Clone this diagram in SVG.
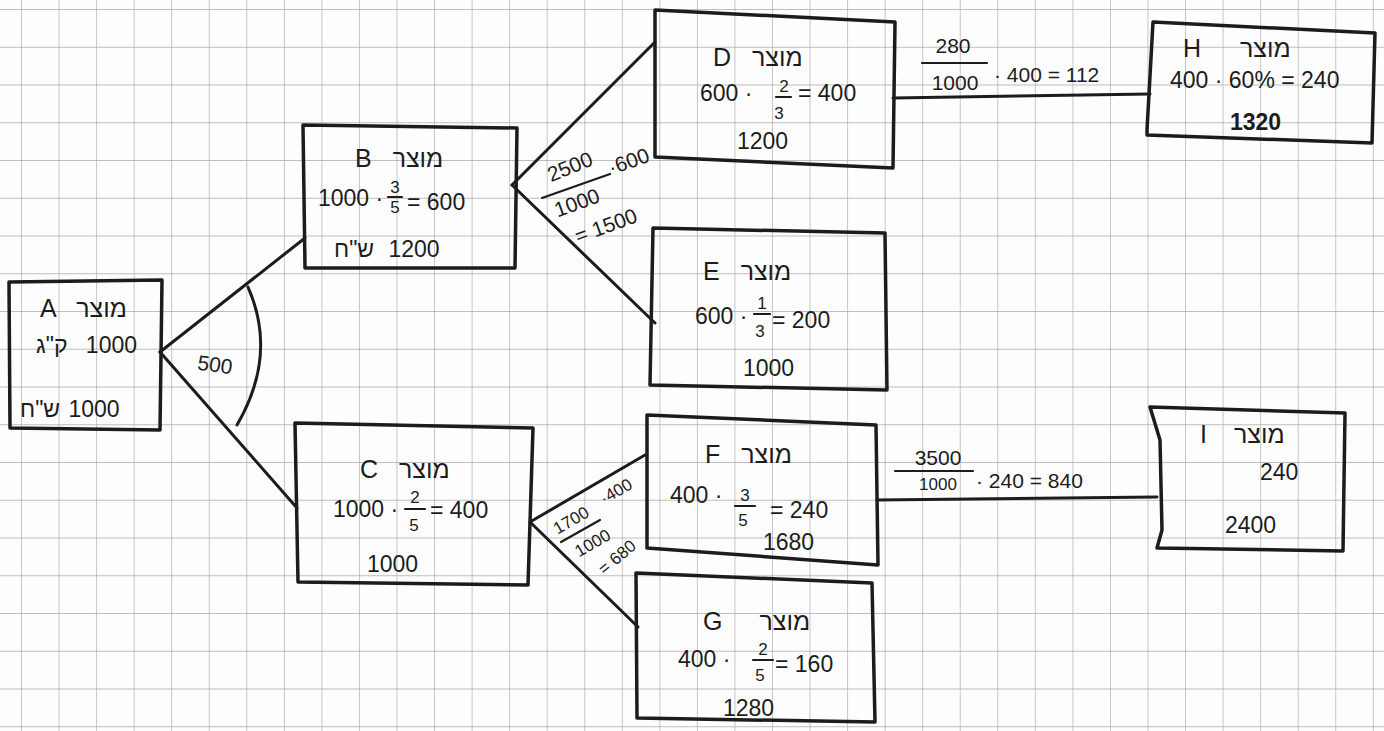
<svg xmlns="http://www.w3.org/2000/svg" width="1384" height="731" viewBox="0 0 1384 731">
<defs>
<pattern id="grid" x="21" y="9" width="37.55" height="37.75" patternUnits="userSpaceOnUse">
<path d="M0,0 V37.75 M0,0 H37.55" stroke="#a9a9a9" stroke-width="1.3" fill="none"/>
</pattern>
<style>
.t{font-family:"Liberation Sans","DejaVu Sans",sans-serif;font-size:23px;fill:#1c1c1c}
.h{font-size:25px;word-spacing:14px}
.s{font-size:17px}
.e{font-size:21px}
.m{text-anchor:middle}
.box{fill:none;stroke:#1c1c1c;stroke-width:3.5;stroke-linejoin:round;stroke-linecap:round}
.ln{fill:none;stroke:#1c1c1c;stroke-width:3;stroke-linecap:round}
.fb{fill:none;stroke:#1c1c1c;stroke-width:2.2;stroke-linecap:round}
</style>
</defs>
<rect width="1384" height="731" fill="#fdfdfd"/>
<rect width="1384" height="731" fill="url(#grid)"/>

<g id="connectors">
<line class="ln" x1="160" y1="352" x2="305" y2="238"/>
<line class="ln" x1="160" y1="352" x2="297" y2="508"/>
<path class="ln" d="M248,287 Q278,355 237,425"/>
<line class="ln" x1="512" y1="185" x2="655" y2="42"/>
<line class="ln" x1="512" y1="185" x2="655" y2="323"/>
<line class="ln" x1="893" y1="98" x2="1150" y2="94"/>
<line class="ln" x1="530" y1="522" x2="645" y2="455"/>
<line class="ln" x1="530" y1="522" x2="638" y2="627"/>
<line class="ln" x1="877" y1="500" x2="1157" y2="497"/>
<!-- edge labels -->
<text class="t e" x="215" y="372" text-anchor="middle" transform="rotate(8 215 365)">500</text>
<g id="label-BDE">
<text class="t e m" x="570" y="174" transform="rotate(-22 570 167)">2500</text>
<line class="fb" x1="542" y1="198" x2="610" y2="174"/>
<text class="t e" x="609" y="175" transform="rotate(-20 611 168)">·600</text>
<text class="t e m" x="577" y="210" transform="rotate(-20 577 203)">1000</text>
<text class="t e m" x="606" y="233" transform="rotate(-20 606 226)">= 1500</text>
</g>
<g id="label-DH">
<text class="t e m" x="953" y="53">280</text>
<line class="fb" x1="922" y1="63" x2="987" y2="63"/>
<text class="t e m" x="955" y="90">1000</text>
<text class="t e" x="994" y="82">· 400 = 112</text>
</g>
<g id="label-CFG">
<text class="t s m" x="571" y="526" transform="rotate(-30 571 520)">1700</text>
<line class="fb" x1="561" y1="542" x2="600" y2="520"/>
<text class="t s m" x="616" y="497" transform="rotate(-30 616 491)">·400</text>
<text class="t s m" x="592" y="549" transform="rotate(-30 592 542)">1000</text>
<text class="t s m" x="617" y="563" transform="rotate(-40 617 557)">= 680</text>
</g>
<g id="label-FI">
<text class="t e m" x="938" y="465">3500</text>
<line class="fb" x1="895" y1="471" x2="973" y2="471"/>
<text class="t s m" x="938" y="490">1000</text>
<text class="t e" x="976" y="488">· 240 = 840</text>
</g>
</g>

<g id="node-A">
<path class="box" d="M9,282 L162,280 L160,430 L10,428 Z"/>
<text class="t h" x="40" y="317">A מוצר</text>
<text class="t" x="36" y="353" style="word-spacing:12px">ק"ג&#x200E; 1000</text>
<text class="t" x="20" y="417" style="word-spacing:2px">ש"ח&#x200E; 1000</text>
</g>

<g id="node-B">
<path class="box" d="M303,125 L517,128 L515,268 L305,268 Z"/>
<text class="t h" x="355" y="167">B מוצר</text>
<text class="t" x="318" y="206">1000 ·</text>
<text class="t s m" x="395" y="193">3</text>
<line class="fb" x1="388" y1="197" x2="402" y2="197"/>
<text class="t s m" x="395" y="213">5</text>
<text class="t" x="407" y="210">= 600</text>
<text class="t" x="334" y="257" style="word-spacing:8px">ש"ח&#x200E; 1200</text>
</g>

<g id="node-C">
<path class="box" d="M295,423 L533,428 L528,585 L298,582 Z"/>
<text class="t h" x="360" y="478">C מוצר</text>
<text class="t" x="333" y="517">1000 ·</text>
<text class="t s m" x="415" y="503">2</text>
<line class="fb" x1="405" y1="509" x2="425" y2="509"/>
<text class="t s m" x="414" y="531">5</text>
<text class="t" x="430" y="518">= 400</text>
<text class="t" x="367" y="572">1000</text>
</g>

<g id="node-D">
<path class="box" d="M655,10 L895,22 L893,168 L655,157 Z"/>
<text class="t h" x="713" y="66">D מוצר</text>
<text class="t" x="700" y="101">600 ·</text>
<text class="t s m" x="784" y="92">2</text>
<line class="fb" x1="776" y1="97" x2="791" y2="97"/>
<text class="t s m" x="779" y="119">3</text>
<text class="t" x="798" y="101">= 400</text>
<text class="t" x="737" y="149">1200</text>
</g>

<g id="node-E">
<path class="box" d="M653,228 L885,233 L887,390 L650,385 Z"/>
<text class="t h" x="703" y="280">E מוצר</text>
<text class="t" x="695" y="324">600 ·</text>
<text class="t s m" x="762" y="309">1</text>
<line class="fb" x1="754" y1="314" x2="770" y2="314"/>
<text class="t s m" x="760" y="337">3</text>
<text class="t" x="772" y="328">= 200</text>
<text class="t" x="743" y="376">1000</text>
</g>

<g id="node-F">
<path class="box" d="M647,415 L876,425 L878,565 L647,548 Z"/>
<text class="t h" x="705" y="463">F מוצר</text>
<text class="t" x="670" y="503">400 ·</text>
<text class="t s m" x="745" y="501">3</text>
<line class="fb" x1="735" y1="506" x2="755" y2="506"/>
<text class="t s m" x="743" y="526">5</text>
<text class="t" x="770" y="518">= 240</text>
<text class="t" x="763" y="550">1680</text>
</g>

<g id="node-G">
<path class="box" d="M636,573 L872,583 L875,722 L637,718 Z"/>
<text class="t h" x="703" y="630" style="word-spacing:30px">G מוצר</text>
<text class="t" x="678" y="667">400 ·</text>
<text class="t s m" x="763" y="655">2</text>
<line class="fb" x1="753" y1="660" x2="773" y2="660"/>
<text class="t s m" x="760" y="681">5</text>
<text class="t" x="775" y="672">= 160</text>
<text class="t" x="723" y="716">1280</text>
</g>

<g id="node-H">
<path class="box" d="M1153,22 L1375,33 L1372,143 L1147,135 L1147,130 Z"/>
<text class="t h" x="1183" y="57" style="word-spacing:32px">H מוצר</text>
<text class="t" x="1170" y="88">400 · 60% = 240</text>
<text class="t" x="1230" y="130" font-weight="bold">1320</text>
</g>

<g id="node-I">
<path class="box" d="M1150,407 L1345,413 L1343,551 L1157,548 L1162,530 L1160,440 Z"/>
<text class="t h" x="1200" y="443" style="word-spacing:20px">I מוצר</text>
<text class="t" x="1260" y="480">240</text>
<text class="t" x="1225" y="533">2400</text>
</g>
</svg>
